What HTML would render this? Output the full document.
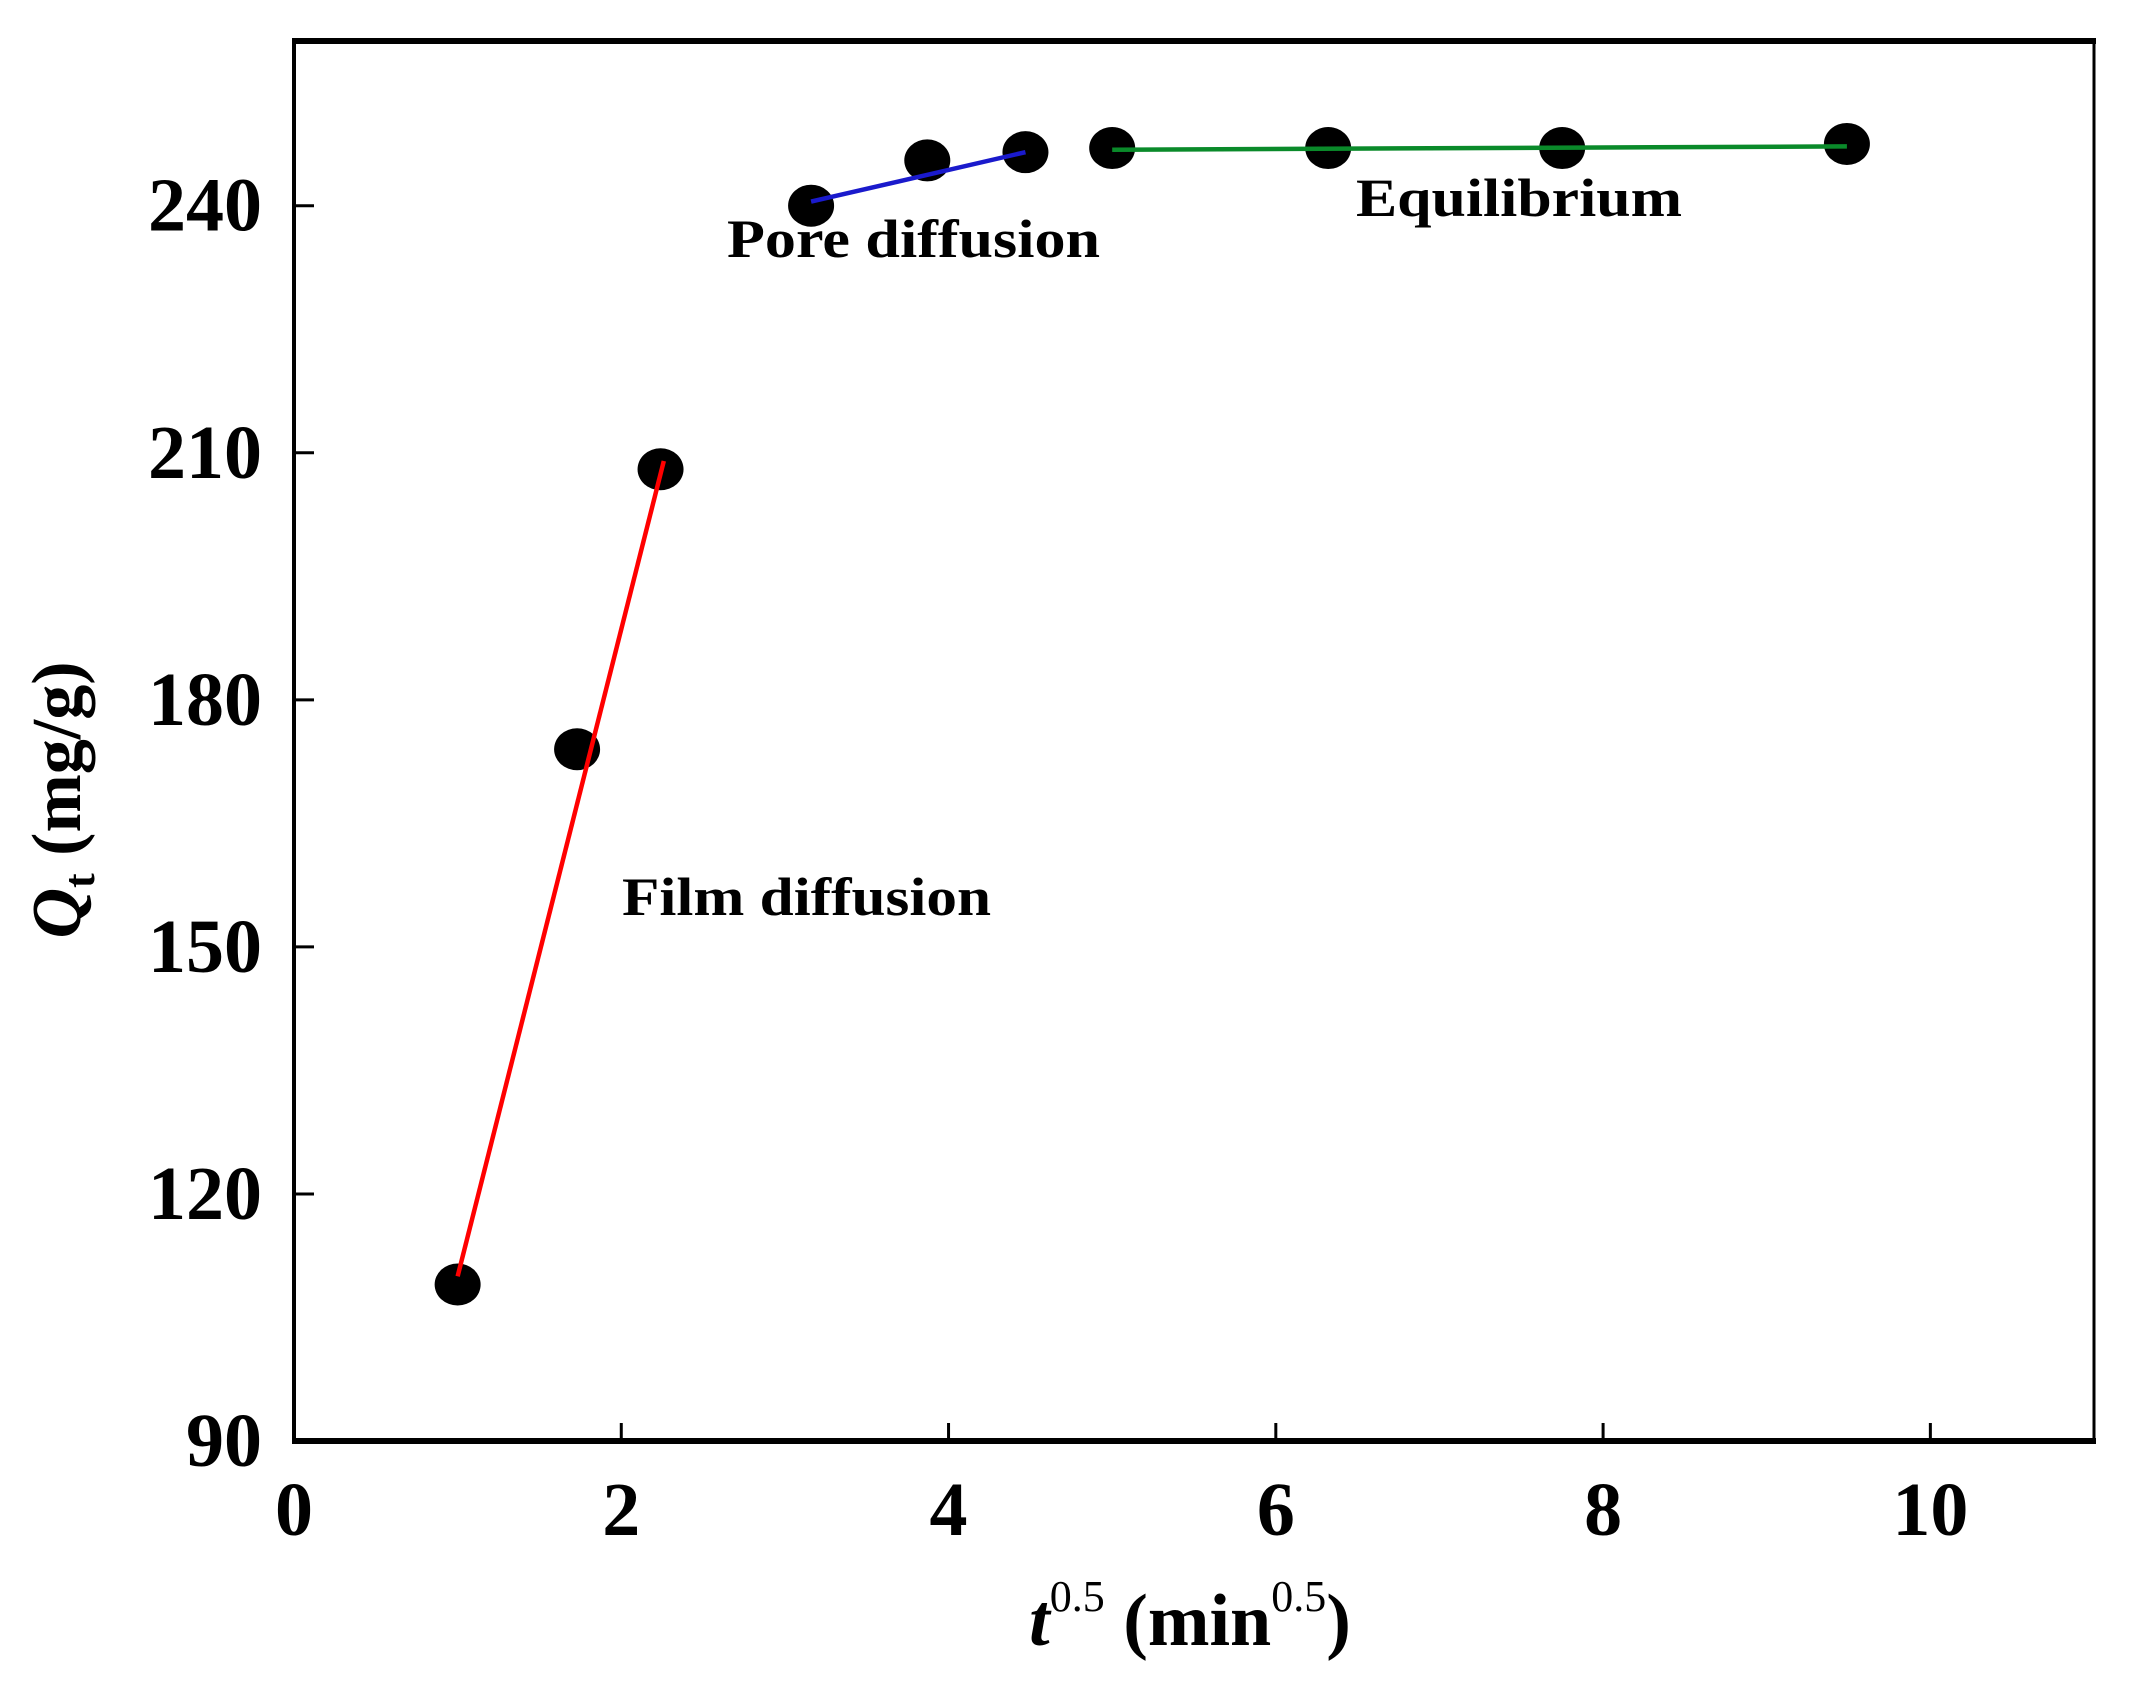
<!DOCTYPE html>
<html><head><meta charset="utf-8"><style>
html,body{margin:0;padding:0;background:#fff;}
svg{display:block;font-family:"Liberation Serif",serif;}
</style></head><body>
<svg id="chart" width="2131" height="1695" viewBox="0 0 2131 1695">
<g id="plot"></g>
</svg>
<script>
const xTicks=[0,2,4,6,8,10];
const yTicks=[90,120,150,180,210,240];
const xVals=[1,1.73,2.24,3.16,3.87,4.47,5,6.32,7.75,9.49];
const yVals=[109,174,208,240,245.5,246.5,247,247,247,247.5];
const filmLine=[[1,110],[2.26,209]];
const poreLine=[[3.16,240.5],[4.47,246.5]];
const eqLine=[[5,246.8],[9.49,247.2]];
const L=294,R=2094,T=41,B=1441,XMIN=0,XMAX=11,YMIN=90,YMAX=260;
const sx=v=>L+(v-XMIN)/(XMAX-XMIN)*(R-L);
const sy=v=>B-(v-YMIN)/(YMAX-YMIN)*(B-T);
const NS="http://www.w3.org/2000/svg";
const g=document.getElementById('plot');
function mk(t,a,txt){const e=document.createElementNS(NS,t);for(const k in a)e.setAttribute(k,a[k]);if(txt!==undefined)e.textContent=txt;g.appendChild(e);return e;}
let e;
e=mk('rect',{x:L,y:T,width:R-L,height:B-T,fill:'none',stroke:'#000','stroke-width':3});


e=mk('line',{x1:L-2,y1:T,x2:R+2,y2:T,stroke:'#000','stroke-width':6});


e=mk('line',{x1:L-2,y1:B,x2:R+2,y2:B,stroke:'#000','stroke-width':6});


e=mk('line',{x1:L,y1:T,x2:L,y2:B,stroke:'#000','stroke-width':4});


xTicks.forEach(v=>{
 if(v>0){e=mk('line',{x1:sx(v),y1:B,x2:sx(v),y2:B-18,stroke:'#000','stroke-width':3});
 
 }
 e=mk('text',{x:sx(v),y:1535,'text-anchor':'middle','font-size':76,'font-weight':'bold'},String(v));
 
 
});
yTicks.forEach(v=>{
 if(v>YMIN){e=mk('line',{x1:L,y1:sy(v),x2:L+20,y2:sy(v),stroke:'#000','stroke-width':3});
 
 }
 e=mk('text',{x:262,y:sy(v)+25,'text-anchor':'end','font-size':76,'font-weight':'bold'},String(v));
 
 
});
function seg(p,c,n){e=mk('line',{x1:sx(p[0][0]),y1:sy(p[0][1]),x2:sx(p[1][0]),y2:sy(p[1][1]),stroke:c,'stroke-width':4.5});
 
 }
xVals.forEach((x,i)=>{
 e=mk('ellipse',{cx:sx(x),cy:sy(yVals[i]),rx:23,ry:21,fill:'#000'});
 
 
});
seg(filmLine,'#ff0000','film-diffusion-line');
seg(poreLine,'#1a1acc','pore-diffusion-line');
seg(eqLine,'#0a8a2a','equilibrium-line');
e=mk('text',{x:727,y:257,'font-size':54,'font-weight':'bold',textLength:373,lengthAdjust:'spacingAndGlyphs'},'Pore diffusion');


e=mk('text',{x:1356,y:216,'font-size':54,'font-weight':'bold',textLength:326,lengthAdjust:'spacingAndGlyphs'},'Equilibrium');


e=mk('text',{x:622,y:915,'font-size':54,'font-weight':'bold',textLength:369,lengthAdjust:'spacingAndGlyphs'},'Film diffusion');


e=mk('text',{transform:'translate(80,800) rotate(-90)','text-anchor':'middle','font-size':70,'font-weight':'bold'});
e.innerHTML='<tspan font-style="italic">Q</tspan><tspan font-size="44" dy="14">t</tspan><tspan dy="-14"> (mg/g)</tspan>';


e=mk('text',{x:1190,y:1645,'text-anchor':'middle','font-size':74,'font-weight':'bold'});
e.innerHTML='<tspan font-style="italic">t</tspan><tspan font-size="44" dy="-34" font-weight="normal">0.5</tspan><tspan dy="34"> (min</tspan><tspan font-size="44" dy="-34" font-weight="normal">0.5</tspan><tspan dy="34">)</tspan>';


</script>
</body></html>
